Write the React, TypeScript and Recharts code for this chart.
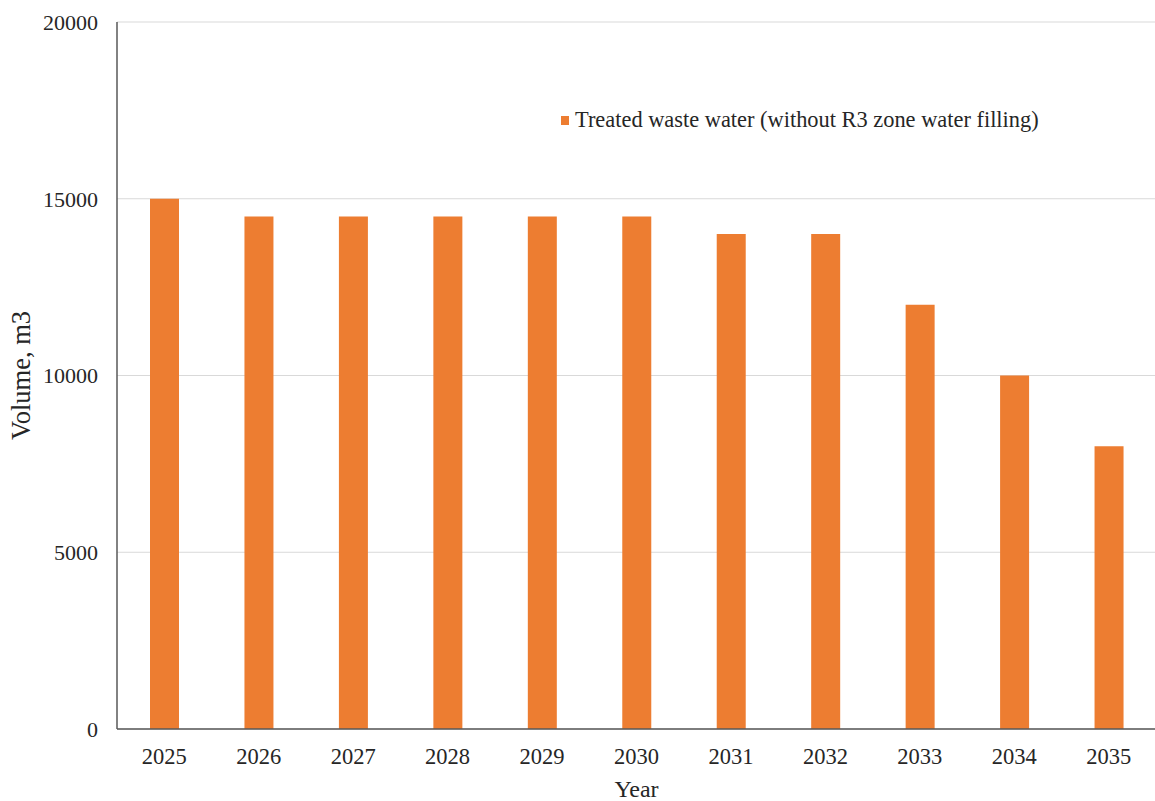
import React from 'react';
import { BarChart, Bar, XAxis, YAxis, CartesianGrid, Legend } from 'recharts';

const years = ['2025', '2026', '2027', '2028', '2029', '2030', '2031', '2032', '2033', '2034', '2035'];
const treatedWater = [15000, 14500, 14500, 14500, 14500, 14500, 14000, 14000, 12000, 10000, 8000];
const yTicks = [0, 5000, 10000, 15000, 20000];

const SERIES_NAME = 'Treated waste water (without R3 zone water filling)';
const ORANGE = '#ED7D31';
const FONT = '"Liberation Serif", "Times New Roman", serif';
const TEXT = '#262626';

const data = years.map((year, i) => ({ year, value: treatedWater[i] }));

const LegendBox = () => (
  <div style={{ display: 'flex', alignItems: 'center', fontFamily: FONT, fontSize: 22.4, color: TEXT, whiteSpace: 'nowrap' }}>
    <span style={{ display: 'inline-block', width: 8, height: 9, background: ORANGE, marginRight: 6 }} />
    <span>{SERIES_NAME}</span>
  </div>
);

const YLabel = (props: any) => {
  const vb = props.viewBox;
  const cy = vb.y + vb.height / 2;
  return (
    <text x={21} y={cy} transform={`rotate(-90, 21, ${cy})`} textAnchor="middle" dominantBaseline="central"
      style={{ fontFamily: FONT, fontSize: 26.5, fill: TEXT }}>
      Volume, m3
    </text>
  );
};

export default function App() {
  return (
    <div style={{ position: 'absolute', left: 0, top: 0, width: 1155, height: 801, background: '#fff' }}>
      <BarChart width={1155} height={801} data={data} margin={{ top: 22, right: -1, bottom: 0, left: 0 }}>
        <CartesianGrid vertical={false} stroke="#d9d9d9" />
        <XAxis
          dataKey="year"
          height={72}
          tickLine={false}
          tickSize={0}
          tickMargin={19}
          axisLine={{ stroke: '#595959', strokeWidth: 1.5 }}
          tick={{ fontFamily: FONT, fontSize: 22.5, fill: TEXT }}
          label={{ value: 'Year', position: 'insideBottom', offset: 4, style: { fontFamily: FONT, fontSize: 24, fill: TEXT } }}
        />
        <YAxis
          width={117}
          domain={[0, 20000]}
          ticks={yTicks}
          tickLine={false}
          tickSize={0}
          tickMargin={19}
          axisLine={{ stroke: '#595959', strokeWidth: 1.5 }}
          tick={{ fontFamily: FONT, fontSize: 22, fill: TEXT }}
          label={{ content: YLabel }}
        />
        <Legend
          layout="vertical"
          align="center"
          verticalAlign="middle"
          content={LegendBox}
          wrapperStyle={{ position: 'absolute', top: 107, left: 561, width: 'auto' }}
        />
        <Bar dataKey="value" name={SERIES_NAME} fill={ORANGE} barSize={29} isAnimationActive={false} />
      </BarChart>
    </div>
  );
}
